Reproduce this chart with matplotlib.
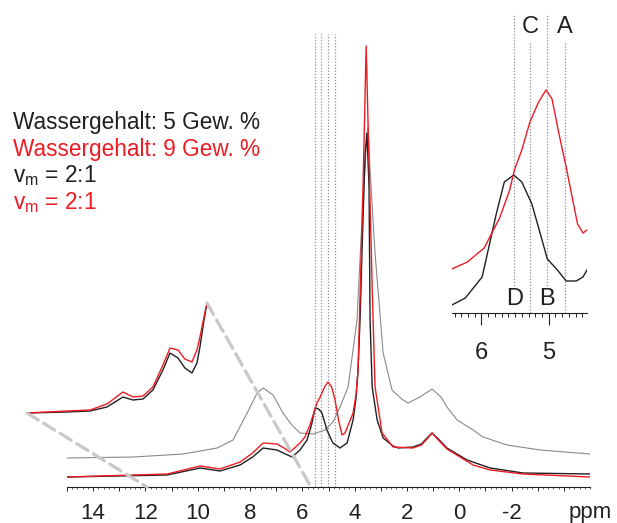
import matplotlib
matplotlib.use('Agg')
import matplotlib.pyplot as plt
from matplotlib.ticker import FixedLocator, MultipleLocator, FuncFormatter
from matplotlib.patches import ConnectionPatch

plt.rcParams['font.family'] = ['Liberation Sans', 'DejaVu Sans']
plt.rcParams['axes.unicode_minus'] = False
plt.rcParams['lines.scale_dashes'] = False
plt.rcParams['mathtext.fontset'] = 'custom'
plt.rcParams['mathtext.rm'] = 'Liberation Sans'
plt.rcParams['mathtext.it'] = 'Liberation Sans'

RED = '#ed1c24'
BLACK = '#231f20'
GRAY = '#8a8a8a'
DASH_GRAY = '#c8c8c8'

# --- 1H NMR spectra (chemical shift in ppm, intensity in arbitrary units) ---
ppm_5 = [15.0, 11.17, 9.91, 9.15, 8.38, 7.90, 7.50, 6.97, 6.65, 6.39, 6.09, 5.82,
         5.65, 5.51, 5.38, 5.25, 5.06, 4.94, 4.83, 4.56, 4.29, 4.06, 3.95, 3.87,
         3.79, 3.72, 3.60, 3.53, 3.45, 3.41, 3.33, 3.14, 2.91, 2.53, 2.34, 1.77,
         1.45, 1.23, 1.04, 0.80, 0.47, -0.30, -1.18, -2.44, -5.0]
int_5 = [10, 12, 19, 16, 22, 30, 39, 37, 33, 30, 37, 47,
         62, 79, 78, 74, 57, 50, 44, 39, 44, 67, 88, 117,
         170, 234, 334, 354, 300, 167, 100, 67, 49, 41, 39, 40,
         43, 49, 54, 48, 39, 27, 19, 14, 13]

ppm_9 = [15.0, 11.17, 9.91, 9.15, 8.38, 7.90, 7.50, 6.97, 6.70, 6.47, 6.09, 5.90,
         5.71, 5.44, 5.32, 5.15, 5.02, 4.88, 4.75, 4.60, 4.48, 4.37, 4.06, 3.95,
         3.87, 3.68, 3.56, 3.49, 3.33, 3.22, 2.95, 2.53, 1.77, 1.45, 1.23, 1.04,
         0.80, 0.47, -0.53, -1.18, -2.44, -5.0]
int_9 = [10, 13, 21, 18, 25, 34, 44, 43, 39, 35, 44, 50,
         62, 84, 90, 100, 105, 100, 87, 65, 52, 54, 74, 92,
         117, 300, 441, 367, 200, 100, 54, 40, 39, 42, 48, 54,
         47, 38, 22, 17, 13, 10]

ppm_ref = [15.0, 12.47, 10.56, 9.26, 8.65, 8.11, 7.73, 7.50, 7.12, 6.74, 6.40,
           6.09, 5.59, 5.13, 4.83, 4.56, 4.25, 3.91, 3.72, 3.56, 3.49, 3.41,
           3.22, 2.91, 2.57, 2.20, 1.96, 1.50, 1.04, 0.70, 0.47, 0.08, -0.53,
           -0.91, -1.83, -3.09, -5.0]
int_ref = [29, 30, 33, 39, 47, 74, 94, 99, 92, 74, 62,
           54, 53, 57, 65, 80, 100, 167, 267, 340, 360, 317,
           234, 134, 97, 88, 84, 90, 98, 90, 80, 67, 57,
           50, 42, 37, 33]

# vertically expanded region 15 - 5.5 ppm
ppm_zoom = [15.19, 13.04, 11.80, 10.89, 10.46, 10.03, 9.49, 8.95, 8.42, 7.88,
            7.50, 7.07, 6.70, 6.32, 6.05, 5.89, 5.67, 5.51]
int_zoom_5 = [74, 75, 76, 80, 85, 90, 87, 88, 97, 117,
              134, 129, 119, 114, 124, 140, 167, 184]
int_zoom_9 = [74, 76, 77, 83, 89, 95, 90, 91, 100, 122,
              139, 137, 128, 125, 137, 150, 170, 184]

# detail of the 4.4 - 6.4 ppm region
ppm_det_9 = [6.44, 6.21, 5.96, 5.73, 5.58, 5.51, 5.40, 5.28, 5.15, 5.04, 4.95,
             4.85, 4.74, 4.64, 4.57, 4.49, 4.43]
int_det_9 = [44, 51, 65, 95, 123, 143, 163, 191, 211, 223, 214,
             180, 146, 112, 89, 80, 83]
ppm_det_5 = [6.44, 6.24, 5.99, 5.78, 5.66, 5.52, 5.40, 5.25, 5.12, 5.02, 4.87,
             4.74, 4.59, 4.49, 4.43]
int_det_5 = [8, 15, 36, 99, 131, 138, 131, 109, 78, 54, 43,
             32, 32, 36, 43]

marker_ppm = [5.51, 5.28, 5.02, 4.76]
marker_labels = ['D', 'C', 'B', 'A']
marker_tall = [True, False, True, False]

legend_lines = ['Wassergehalt: 5 Gew. %', 'Wassergehalt: 9 Gew. %',
                r'v$_{\mathregular{m}}$ = 2:1', r'v$_{\mathregular{m}}$ = 2:1']
legend_colors = [BLACK, RED, BLACK, RED]

main_ticks = list(range(-4, 16))
main_labelled = list(range(-2, 15, 2))
inset_ticks = [6, 5]

W, H = 617, 523
fig = plt.figure(figsize=(W / 100, H / 100), dpi=100)


def box(x0, x1, ytop, ybot):
    return [x0 / W, 1 - ybot / H, (x1 - x0) / W, (ybot - ytop) / H]


def main_fmt(v, pos):
    iv = int(round(v))
    return '%d' % iv if iv in main_labelled else ''


# main spectrum axis
ax = fig.add_axes(box(67, 590, 0, 487))
ax.set_xlim(15, -5)
ax.set_ylim(0, 487)
for s in ['left', 'right', 'top']:
    ax.spines[s].set_visible(False)
ax.spines['bottom'].set_color(BLACK)
ax.spines['bottom'].set_linewidth(0.8)
ax.patch.set_alpha(0)
ax.yaxis.set_visible(False)
ax.xaxis.set_major_locator(FixedLocator(main_ticks))
ax.xaxis.set_major_formatter(FuncFormatter(main_fmt))
ax.xaxis.set_minor_locator(MultipleLocator(0.2))
ax.tick_params(axis='x', which='major', direction='out', length=3.2, width=0.7,
               color=BLACK, labelsize=16, labelcolor=BLACK, pad=8)
ax.tick_params(axis='x', which='minor', direction='out', length=1.6, width=0.5, color=BLACK)

ax.vlines(marker_ppm, 0, 453, colors='#8f8f8f', linewidth=0.9,
          linestyles=[(0, (0.9, 1.3))], zorder=1)
ax.plot(ppm_ref, int_ref, color=GRAY, lw=0.8, zorder=3)
ax.plot(ppm_5, int_5, color=BLACK, lw=1.0, zorder=4)
ax.plot(ppm_9, int_9, color=RED, lw=1.0, zorder=5)
ax.annotate('ppm', xy=(-5, 0), xytext=(0, -22), textcoords='offset points',
            ha='center', va='baseline', fontsize=16, color=BLACK)

# vertically expanded trace
axz = fig.add_axes(box(27, 207, 0, 487))
axz.set_xlim(15.19, 5.51)
axz.set_ylim(0, 487)
axz.axis('off')
axz.plot(ppm_zoom, int_zoom_5, color=BLACK, lw=1.0, zorder=4, clip_on=False)
axz.plot(ppm_zoom, int_zoom_9, color=RED, lw=1.0, zorder=5, clip_on=False)

for xa, ya, xb in [(ppm_zoom[0], int_zoom_5[0], 11.94), (ppm_zoom[-1], int_zoom_5[-1], 5.67)]:
    con = ConnectionPatch(xyA=(xa, ya), coordsA=axz.transData,
                          xyB=(xb, 0), coordsB=ax.transData,
                          color=DASH_GRAY, lw=2.3, linestyle=(0, (9.5, 4.5)),
                          zorder=0.5)
    fig.add_artist(con)

# detail inset
axi = fig.add_axes(box(451.9, 587, 0, 313))
axi.set_xlim(6.44, 4.43)
axi.set_ylim(0, 313)
for s in ['left', 'right', 'top']:
    axi.spines[s].set_visible(False)
axi.spines['bottom'].set_color(BLACK)
axi.spines['bottom'].set_linewidth(0.8)
axi.patch.set_alpha(0)
axi.yaxis.set_visible(False)
axi.xaxis.set_major_locator(FixedLocator(inset_ticks))
axi.xaxis.set_major_formatter(FuncFormatter(lambda v, p: '%d' % v))
axi.xaxis.set_minor_locator(MultipleLocator(0.1))
axi.tick_params(axis='x', which='major', direction='out', length=8.6, width=0.8,
                color=BLACK, labelsize=17, labelcolor=BLACK, pad=12)
axi.tick_params(axis='x', which='minor', direction='out', length=3.2, width=0.7, color=BLACK)

for xm, lab, tall in zip(marker_ppm, marker_labels, marker_tall):
    top = 298 if tall else 271
    axi.vlines(xm, 0, top, colors='#8f8f8f', linewidth=0.9,
               linestyles=[(0, (0.9, 1.3))], zorder=1)
    if tall:
        axi.text(xm, 14, lab, ha='center', va='center', fontsize=17, color=BLACK,
                 zorder=6, bbox=dict(facecolor='white', edgecolor='none', pad=0.5))
    else:
        axi.text(xm, 286, lab, ha='center', va='center', fontsize=17, color=BLACK, zorder=6)

axi.plot(ppm_det_5, int_det_5, color=BLACK, lw=1.0, zorder=4)
axi.plot(ppm_det_9, int_det_9, color=RED, lw=1.0, zorder=5)

# sample description
for i, (txt, col) in enumerate(zip(legend_lines, legend_colors)):
    fig.text(13 / W, 1 - (129 + 26.7 * i) / H, txt, color=col, fontsize=16.3,
             ha='left', va='baseline')

fig.savefig('out.png', dpi=100)
